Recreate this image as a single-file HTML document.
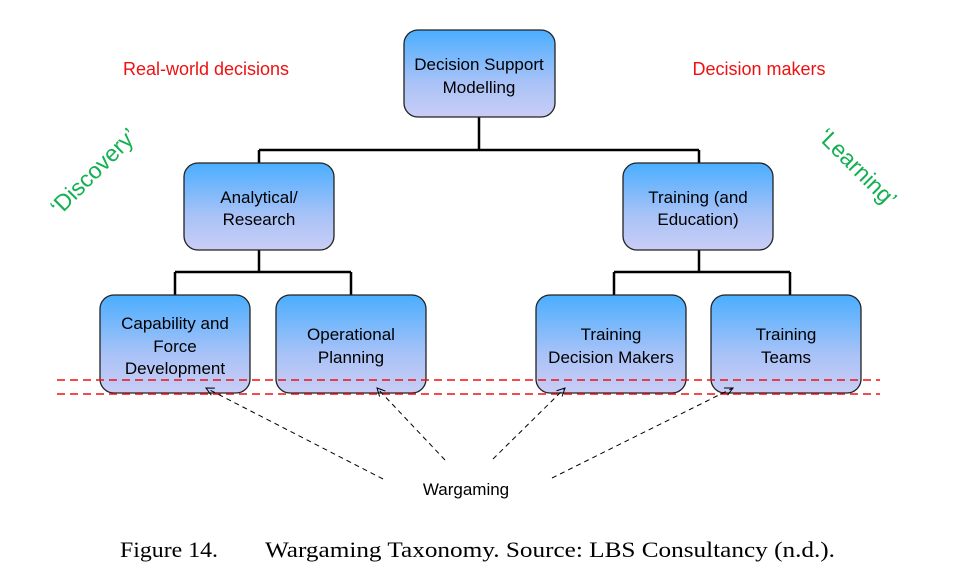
<!DOCTYPE html>
<html><head><meta charset="utf-8"><style>
html,body{margin:0;padding:0;background:#fff;}
svg{display:block;font-family:"Liberation Sans",sans-serif;}
</style></head><body>
<svg width="960" height="573" viewBox="0 0 960 573" xmlns="http://www.w3.org/2000/svg">
<defs>
<linearGradient id="g" x1="0" y1="0" x2="0" y2="1">
<stop offset="0" stop-color="#4aaeff"/><stop offset="0.6" stop-color="#a8c2f7"/><stop offset="1" stop-color="#c9cdf5"/>
</linearGradient>
<marker id="ar" markerWidth="10" markerHeight="10" refX="9" refY="5" orient="auto" markerUnits="userSpaceOnUse">
<path d="M1,1 L9,5 L1,9" fill="none" stroke="#000" stroke-width="1"/>
</marker>
</defs>
<g stroke="#000" stroke-width="2.5" fill="none">
<path d="M479,117 V150 M259,150 H699 M259,150 V163 M699,150 V163"/>
<path d="M259,250 V272 M175,272 H351 M175,272 V295 M351,272 V295"/>
<path d="M699,250 V272 M614,272 H790 M614,272 V295 M790,272 V295"/>
</g>
<g fill="url(#g)" stroke="#222" stroke-width="1.3">
<rect x="404" y="30" width="151" height="87" rx="14"/>
<rect x="184" y="163" width="150" height="87" rx="14"/>
<rect x="623" y="163" width="150" height="87" rx="14"/>
<rect x="100" y="295" width="150" height="98" rx="14"/>
<rect x="276" y="295" width="150" height="98" rx="14"/>
<rect x="536" y="295" width="150" height="98" rx="14"/>
<rect x="711" y="295" width="150" height="98" rx="14"/>
</g>
<g font-size="17" text-anchor="middle" fill="#000">
<text x="479" y="70">Decision Support</text><text x="479" y="93">Modelling</text>
<text x="259" y="203">Analytical/</text><text x="259" y="225">Research</text>
<text x="698" y="203">Training (and</text><text x="698" y="225">Education)</text>
<text x="175" y="329">Capability and</text><text x="175" y="352">Force</text><text x="175" y="374">Development</text>
<text x="351" y="340">Operational</text><text x="351" y="363">Planning</text>
<text x="611" y="340">Training</text><text x="611" y="363">Decision Makers</text>
<text x="786" y="340">Training</text><text x="786" y="363">Teams</text>
<text x="466" y="495">Wargaming</text>
</g>
<g stroke="#ee1111" stroke-width="1.6" stroke-dasharray="8,5">
<line x1="57" y1="380" x2="880" y2="380"/><line x1="57" y1="394" x2="880" y2="394"/>
</g>
<g stroke="#000" stroke-width="1" stroke-dasharray="5,4" marker-end="url(#ar)">
<line x1="383" y1="479" x2="206" y2="388"/>
<line x1="445" y1="460" x2="377" y2="388"/>
<line x1="493" y1="459" x2="565" y2="388"/>
<line x1="552" y1="478" x2="733" y2="388"/>
</g>
<g font-size="18" fill="#ee1111" text-anchor="middle">
<text x="206" y="75">Real-world decisions</text>
<text x="759" y="75">Decision makers</text>
</g>
<g font-size="23" fill="#12b050" text-anchor="middle">
<text transform="translate(99,177) rotate(-45)">‘Discovery’</text>
<text transform="translate(852,173) rotate(45)">‘Learning’</text>
</g>
<g font-family="Liberation Serif,serif" font-size="22" fill="#000">
<text x="120" y="557" textLength="98" lengthAdjust="spacingAndGlyphs">Figure 14.</text>
<text x="265" y="557" textLength="570" lengthAdjust="spacingAndGlyphs">Wargaming Taxonomy. Source: LBS Consultancy (n.d.).</text>
</g>
</svg>
</body></html>
